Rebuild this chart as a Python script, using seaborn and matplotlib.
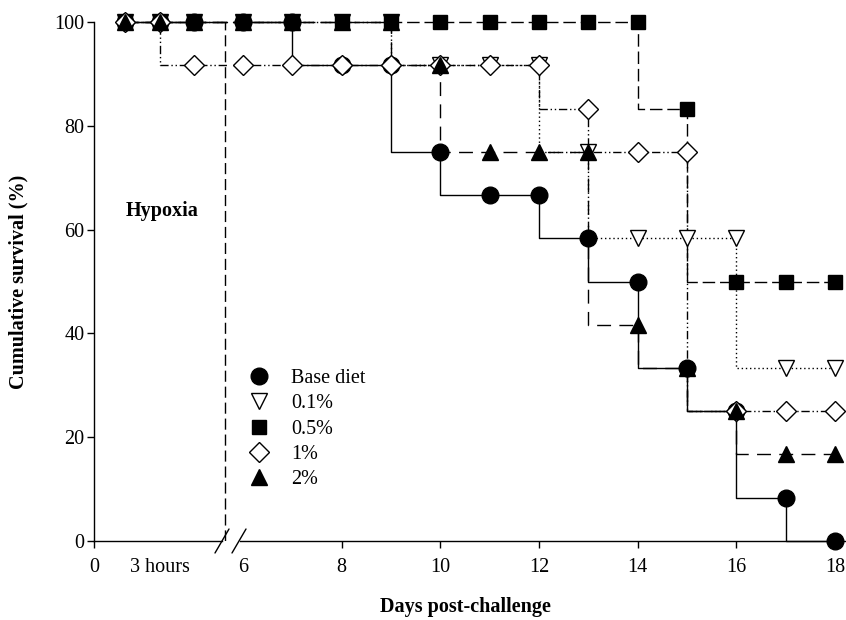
import numpy as np
import matplotlib
matplotlib.use('Agg')
import matplotlib.pyplot as plt
import seaborn as sns
from matplotlib.lines import Line2D

# hypoxia phase (hours) and challenge days
early_hours = [1.4, 3.0, 4.55]
days = [6, 7, 8, 9, 10, 11, 12, 13, 14, 15, 16, 17, 18]

groups = ['Base diet', '0.1%', '0.5%', '1%', '2%']
base_early = [100, 100, 100]
base_days = [100, 100, 91.7, 91.7, 75, 66.7, 66.7, 58.3, 50, 33.3, 25, 8.3, 0]
p01_early = [100, 100, 100]
p01_days = [100, 100, 100, 100, 91.7, 91.7, 91.7, 75, 58.3, 58.3, 58.3, 33.3, 33.3]
p05_early = [100, 100, 100]
p05_days = [100, 100, 100, 100, 100, 100, 100, 100, 100, 83.3, 50, 50, 50]
p1_early = [100, 100, 91.7]
p1_days = [91.7, 91.7, 91.7, 91.7, 91.7, 91.7, 91.7, 83.3, 75, 75, 25, 25, 25]
p2_early = [100, 100, 100]
p2_days = [100, 100, 100, 100, 91.7, 75, 75, 75, 41.7, 33.3, 25, 16.7, 16.7]

early_vals = [base_early, p01_early, p05_early, p1_early, p2_early]
day_vals = [base_days, p01_days, p05_days, p1_days, p2_days]

styles = [
    dict(marker='o', ms=12, mfc='black', ls='-'),
    dict(marker='v', ms=11.5, mfc='white', ls=(0, (1, 2))),
    dict(marker='s', ms=10.5, mfc='black', ls=(0, (9, 3.5))),
    dict(marker='D', ms=9.8, mfc='white', ls=(0, (6, 2, 1, 2, 1, 2))),
    dict(marker='^', ms=12, mfc='black', ls=(0, (10, 6))),
]

sns.set_theme(style='ticks')
plt.rcParams['font.family'] = ['Liberation Serif', 'DejaVu Serif']
plt.rcParams['axes.edgecolor'] = 'black'
plt.rcParams['axes.linewidth'] = 1.0
plt.rcParams['xtick.color'] = 'black'
plt.rcParams['ytick.color'] = 'black'
plt.rcParams['text.color'] = 'black'
plt.rcParams['axes.labelcolor'] = 'black'

FS = 14.5
W, H = 846, 620
fig = plt.figure(figsize=(W / 100, H / 100), dpi=100)


def px_box(x0, x1, ytop, ybot):
    return [x0 / W, 1 - ybot / H, (x1 - x0) / W, (ybot - ytop) / H]


left_lim = (0, 6.05)
right_lim = (5.8, 18.2)
ax_l = fig.add_axes(px_box(94, 227, 22, 541))
ax_r = fig.add_axes(px_box(233, 845, 22, 541))

for i in range(len(groups)):
    st = styles[i]
    xl = early_hours + [left_lim[1]]
    yl = early_vals[i] + [day_vals[i][0]]
    xr = [right_lim[0]] + days
    yr = [early_vals[i][-1]] + day_vals[i]
    for ax, xs, ys in ((ax_l, xl, yl), (ax_r, xr, yr)):
        sns.lineplot(x=xs, y=ys, ax=ax, color='black', linestyle=st['ls'],
                     drawstyle='steps-pre', lw=1.0, clip_on=False, zorder=2,
                     legend=False)
    ax_l.plot(early_hours, early_vals[i], ls='none', marker=st['marker'], ms=st['ms'],
              mfc=st['mfc'], mec='black', mew=1.0, clip_on=False, zorder=3 + i)
    ax_r.plot(days, day_vals[i], ls='none', marker=st['marker'], ms=st['ms'],
              mfc=st['mfc'], mec='black', mew=1.0, clip_on=False, zorder=3 + i)

# end of hypoxia
ax_l.axvline(5.96, color='black', lw=1.0, ls=(0, (8, 3.5)), zorder=1)

for ax in (ax_l, ax_r):
    ax.set_ylim(0, 100)
    sns.despine(ax=ax)
    ax.tick_params(axis='both', labelsize=FS, width=1.0, length=5, direction='out',
                   labelcolor='black')
    ax.tick_params(axis='x', pad=7)
    ax.tick_params(axis='y', pad=2)

ax_l.set_xlim(*left_lim)
ax_l.set_xticks([0, 3])
ax_l.set_xticklabels(['0', '3 hours'])
ax_l.xaxis.get_major_ticks()[1].tick1line.set_visible(False)
ax_l.set_yticks([0, 20, 40, 60, 80, 100])
ax_l.spines['bottom'].set_bounds(0, 5.82)

ax_r.set_xlim(*right_lim)
ax_r.set_xticks([6, 8, 10, 12, 14, 16, 18])
ax_r.xaxis.get_major_ticks()[0].tick1line.set_visible(False)
ax_r.spines['left'].set_visible(False)
ax_r.tick_params(axis='y', left=False, labelleft=False)
ax_r.spines['bottom'].set_bounds(5.94, 18.2)

# axis break marks
for x0 in (215, 232):
    fig.add_artist(Line2D([x0 / W, (x0 + 14) / W], [1 - 553 / H, 1 - 529 / H],
                          color='black', lw=1.0, transform=fig.transFigure))

ax_l.text(3.1, 63.5, 'Hypoxia', ha='center', va='center', fontsize=FS, fontweight='bold')

fig.text(18 / W, 1 - 281.5 / H, 'Cumulative survival (%)', rotation=90, ha='center',
         va='center', fontsize=FS, fontweight='bold')
fig.text(465 / W, 1 - 607 / H, 'Days post-challenge', ha='center', va='center',
         fontsize=FS, fontweight='bold')

handles = [Line2D([], [], ls='none', marker=s['marker'], ms=s['ms'], mfc=s['mfc'],
                  mec='black', mew=1.0) for s in styles]
fig.legend(handles, groups, loc='center left', bbox_to_anchor=(249 / W, 1 - 429 / H),
           frameon=False, fontsize=FS, handlelength=1.0, handletextpad=1.1,
           labelspacing=0.3, borderpad=0, borderaxespad=0)

fig.savefig('out.png', dpi=100)
